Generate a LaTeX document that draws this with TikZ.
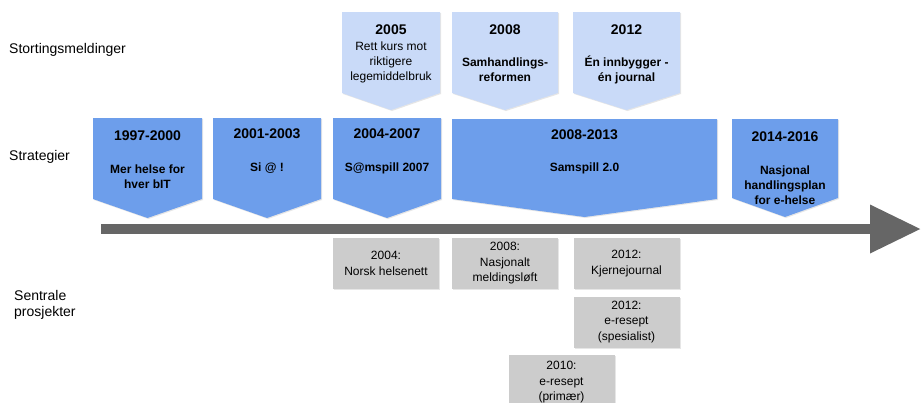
\documentclass[tikz,border=0pt]{standalone}
\usepackage{fontspec}
\setmainfont{Liberation Sans}
\usetikzlibrary{arrows.meta,shadows}
\definecolor{meldblue}{HTML}{C9DAF8}
\definecolor{stratblue}{HTML}{6D9EEB}
\definecolor{projgray}{HTML}{CCCCCC}
\definecolor{arrowgray}{HTML}{666666}
\newcommand{\downbox}[6]{\fill[#1] (#2,#4) -- (#3,#4) -- (#3,#5) -- ({(#2+#3)/2},#6) -- (#2,#5) -- cycle;}

\begin{document}
\begin{tikzpicture}[
  x=1pt, y=-1pt,
  every node/.style={align=center, inner sep=0pt},
  shade/.style={drop shadow={shadow xshift=1pt, shadow yshift=-1pt, opacity=.2}},
  meld/.style={fill=meldblue, shade},
  strat/.style={fill=stratblue, shade},
  proj/.style={fill=projgray, shade, minimum width=106pt, minimum height=51pt,
    font=\fontsize{12}{15.5}\selectfont},
  year/.style={font=\fontsize{14}{16}\selectfont\bfseries},
  title/.style={font=\fontsize{12}{15}\selectfont\bfseries},
  plain/.style={font=\fontsize{12}{15}\selectfont},
  rowlabel/.style={anchor=west, align=left, font=\fontsize{14}{16}\selectfont},
  timeline/.style={draw=arrowgray, line width=10pt, -{Triangle[length=51pt,width=46pt]}}
]
  \useasboundingbox (0,0) rectangle (921,402);

  % row labels
  \node[rowlabel] (lmeld) at (9,50) {Stortingsmeldinger};
  \node[rowlabel] (lstrat) at (9,157) {Strategier};
  \node[rowlabel] (lproj) at (14,305) {Sentrale\\prosjekter};

  % stortingsmeldinger
  \downbox{meld}{342}{440}{12}{93}{110}
  \downbox{meld}{452}{558}{12}{93}{110}
  \downbox{meld}{573}{680}{12}{93}{110}
  \node[year] (m1y) at (391,30) {2005};
  \node[plain] (m1t) at (391,62) {Rett kurs mot\\riktigere\\legemiddelbruk};
  \node[year] (m2y) at (505,30) {2008};
  \node[title] (m2t) at (505,69.5) {Samhandlings-\\reformen};
  \node[year] (m3y) at (626.5,30) {2012};
  \node[title] (m3t) at (626.5,69.5) {Én innbygger -\\én journal};

  % strategier
  \downbox{strat}{93}{202}{118}{199}{218}
  \downbox{strat}{213}{321}{118}{199}{218}
  \downbox{strat}{333}{441}{118}{199}{218}
  \downbox{strat}{452}{717}{119}{199}{217}
  \downbox{strat}{732}{838}{119}{198}{217}
  \node[year] (s1y) at (147.5,136) {1997-2000};
  \node[title] (s1t) at (147.5,176.5) {Mer helse for\\hver bIT};
  \node[year] (s2y) at (267,134) {2001-2003};
  \node[title] (s2t) at (267,168) {Si @ !};
  \node[year] (s3y) at (387,134) {2004-2007};
  \node[title] (s3t) at (387,168) {S@mspill 2007};
  \node[year] (s4y) at (584.5,135) {2008-2013};
  \node[title] (s4t) at (584.5,168) {Samspill 2.0};
  \node[year] (s5y) at (785,137) {2014-2016};
  \node[title] (s5t) at (785,185) {Nasjonal\\handlingsplan\\for e-helse};

  % tidslinje
  \coordinate (tstart) at (101,229);
  \coordinate (tend) at (921,229);
  \draw[timeline] (tstart) -- (tend);

  % sentrale prosjekter
  \node[proj] (p1) at (386,263.5) {2004:\\Norsk helsenett};
  \node[proj] (p2) at (505,263.5) {2008:\\Nasjonalt\\meldingsløft};
  \node[proj] (p3) at (626.5,263.5) {2012:\\Kjernejournal};
  \node[proj] (p4) at (626.5,322) {2012:\\e-resept\\(spesialist)};
  \node[proj, minimum height=55pt] (p5) at (561.5,382.5) {2010:\\e-resept\\(primær)};
\end{tikzpicture}
\end{document}
